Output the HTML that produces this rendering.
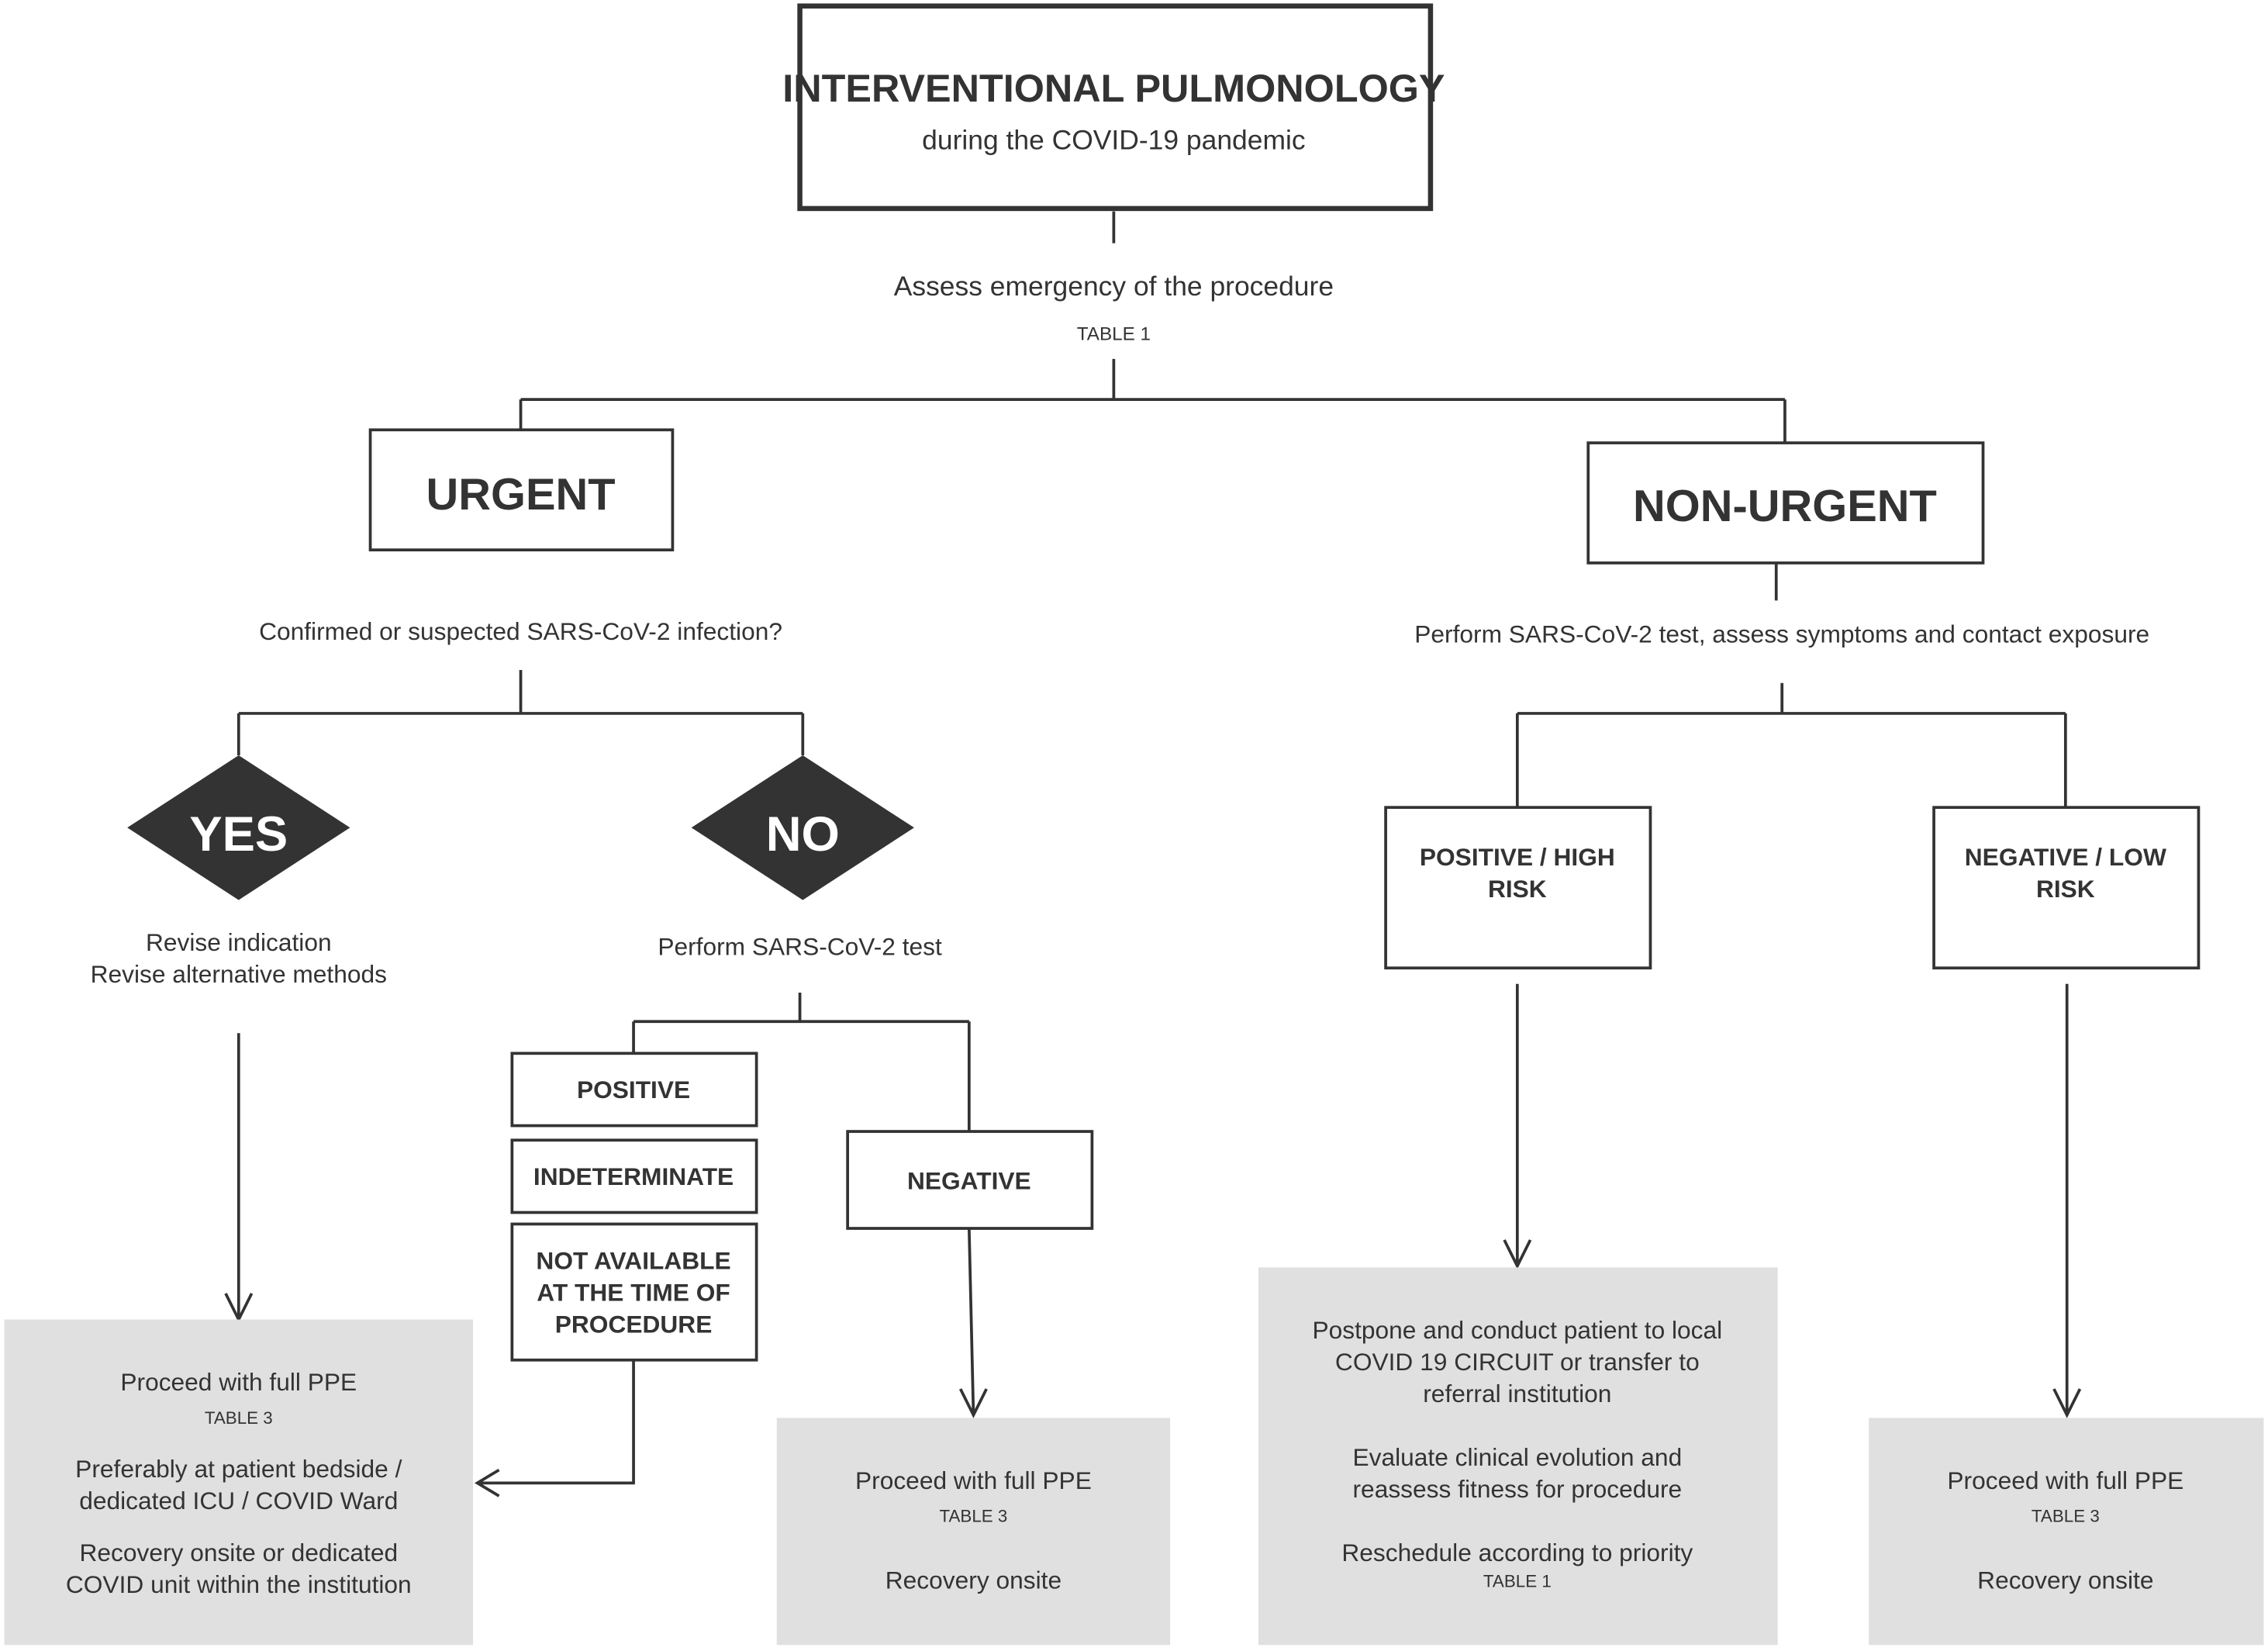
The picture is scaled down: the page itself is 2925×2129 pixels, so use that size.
<!DOCTYPE html>
<html><head><meta charset="utf-8"><style>
html,body{margin:0;padding:0;background:#fff;}
svg{display:block;}
text{font-family:"Liberation Sans",Arial,sans-serif;fill:#333;text-anchor:middle;}
.c{font-family:"Liberation Sans Narrow","Liberation Sans",sans-serif;font-weight:bold;}
</style></head><body>
<svg width="2925" height="2129" viewBox="0 0 1568 1141" xmlns="http://www.w3.org/2000/svg">
<g fill="none" stroke="#333" stroke-width="2">
<rect x="553" y="4" width="436" height="140" stroke-width="3.5"/>
<path d="M770 146V168M770 248V276M360 276H1234M360 276V297M1234 276V306"/>
<rect x="256" y="297" width="209" height="83"/>
<rect x="1098" y="306" width="273" height="83"/>
<path d="M360 463V493M165 493H555M165 493V522M555 493V522"/>
<path d="M553 686V706M438 706H670M438 706V728M670 706V782"/>
<rect x="354" y="728" width="169" height="50"/>
<rect x="354" y="788" width="169" height="50"/>
<rect x="354" y="846" width="169" height="94"/>
<rect x="586" y="782" width="169" height="67"/>
<path d="M438 940V1025H330M345 1016L330 1025L345 1034"/>
<path d="M165 714V912M156 894L165 912L174 894"/>
<path d="M670 849L673 978M664 960L673 978L682 960"/>
<path d="M1228 389V415M1232 472V493M1049 493H1428M1049 493V558M1428 493V558"/>
<rect x="958" y="558" width="183" height="111"/>
<rect x="1337" y="558" width="183" height="111"/>
<path d="M1049 680V875M1040 857L1049 875L1058 857"/>
<path d="M1429 680V978M1420 960L1429 978L1438 960"/>
</g>
<polygon points="165,522 242,572 165,622 88,572" fill="#333"/>
<polygon points="555,522 632,572 555,622 478,572" fill="#333"/>
<rect x="3" y="912" width="324" height="225" fill="#e0e0e0"/>
<rect x="537" y="980" width="272" height="157" fill="#e0e0e0"/>
<rect x="870" y="876" width="359" height="261" fill="#e0e0e0"/>
<rect x="1292" y="980" width="273" height="157" fill="#e0e0e0"/>

<text x="770" y="70" class="c" font-size="27">INTERVENTIONAL PULMONOLOGY</text>
<text x="770" y="103" font-size="19">during the COVID-19 pandemic</text>
<text x="770" y="204" font-size="19">Assess emergency of the procedure</text>
<text x="770" y="235" font-size="13">TABLE 1</text>
<text x="360" y="352" class="c" font-size="31">URGENT</text>
<text x="1234" y="360" class="c" font-size="31">NON-URGENT</text>
<text x="360" y="442" font-size="17">Confirmed or suspected SARS-CoV-2 infection?</text>
<text x="1232" y="444" font-size="17">Perform SARS-CoV-2  test, assess symptoms and contact exposure</text>
<text x="165" y="588" class="c" font-size="34" style="fill:#fff">YES</text>
<text x="555" y="588" class="c" font-size="34" style="fill:#fff">NO</text>
<text x="165" y="657" font-size="17">Revise indication</text>
<text x="165" y="679" font-size="17">Revise alternative methods</text>
<text x="553" y="660" font-size="17">Perform SARS-CoV-2 test</text>
<text x="438" y="759" class="c" font-size="17">POSITIVE</text>
<text x="438" y="819" class="c" font-size="17">INDETERMINATE</text>
<text x="438" y="877" class="c" font-size="17">NOT AVAILABLE</text>
<text x="438" y="899" class="c" font-size="17">AT THE TIME OF</text>
<text x="438" y="921" class="c" font-size="17">PROCEDURE</text>
<text x="670" y="822" class="c" font-size="17">NEGATIVE</text>
<text x="1049" y="598" class="c" font-size="17">POSITIVE / HIGH</text>
<text x="1049" y="620" class="c" font-size="17">RISK</text>
<text x="1428" y="598" class="c" font-size="17">NEGATIVE / LOW</text>
<text x="1428" y="620" class="c" font-size="17">RISK</text>

<text x="165" y="961" font-size="17">Proceed with full PPE</text>
<text x="165" y="984" font-size="12">TABLE 3</text>
<text x="165" y="1021" font-size="17">Preferably at patient bedside /</text>
<text x="165" y="1043" font-size="17">dedicated ICU / COVID Ward</text>
<text x="165" y="1079" font-size="17">Recovery onsite or dedicated</text>
<text x="165" y="1101" font-size="17">COVID unit within the institution</text>

<text x="673" y="1029" font-size="17">Proceed with full PPE</text>
<text x="673" y="1052" font-size="12">TABLE 3</text>
<text x="673" y="1098" font-size="17">Recovery onsite</text>

<text x="1049" y="925" font-size="17">Postpone and conduct patient to local</text>
<text x="1049" y="947" font-size="17">COVID 19 CIRCUIT or transfer to</text>
<text x="1049" y="969" font-size="17">referral institution</text>
<text x="1049" y="1013" font-size="17">Evaluate clinical evolution and</text>
<text x="1049" y="1035" font-size="17">reassess fitness for procedure</text>
<text x="1049" y="1079" font-size="17">Reschedule according to priority</text>
<text x="1049" y="1097" font-size="12">TABLE 1</text>

<text x="1428" y="1029" font-size="17">Proceed with full PPE</text>
<text x="1428" y="1052" font-size="12">TABLE 3</text>
<text x="1428" y="1098" font-size="17">Recovery onsite</text>
</svg>
</body></html>
